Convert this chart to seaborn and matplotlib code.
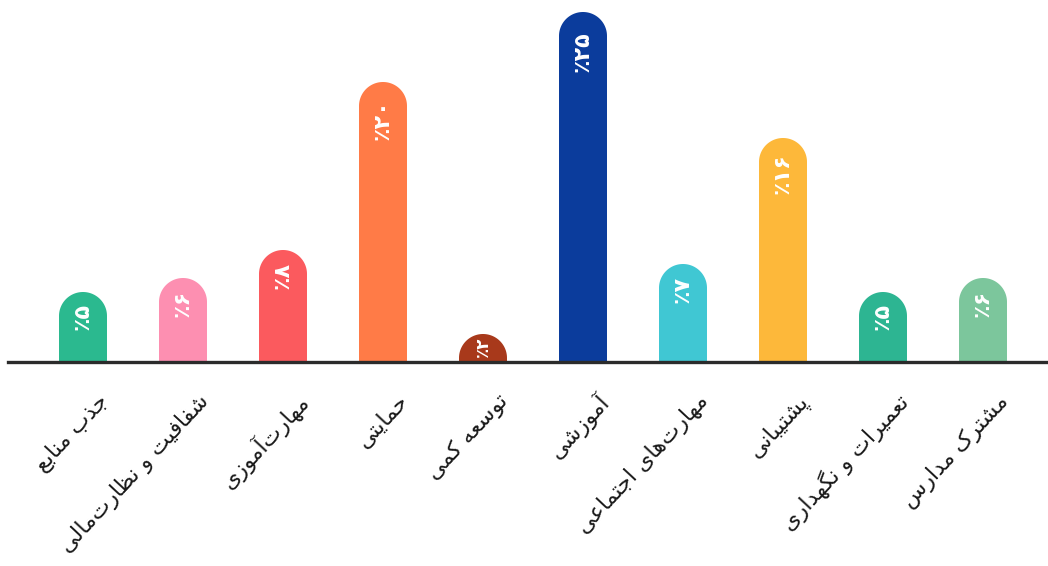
import numpy as np
import pandas as pd
import matplotlib
matplotlib.use("Agg")
import matplotlib.pyplot as plt
import seaborn as sns
from matplotlib.path import Path
from matplotlib.patches import PathPatch
from matplotlib.transforms import ScaledTranslation

# ---------------- data ----------------
categories = ["جذب منابع", "شفافیت و نظارت‌مالی", "مهارت‌آموزی", "حمایتی",
              "توسعه کمی", "آموزشی", "مهارت‌های اجتماعی", "پشتیبانی",
              "تعمیرات و نگهداری", "مشترک مدارس"]
values = [5, 6, 8, 20, 2, 25, 7, 16, 5, 6]
colors = ["#2bb98f", "#fd8fb1", "#fb5a5e", "#ff7b47", "#a8391b",
          "#0b3c9c", "#40c7d3", "#fdb83a", "#2db592", "#7cc69c"]

# ------------- simple Arabic/Persian shaping -------------
FORMS = {
    'ا': ('R', 0xFE8D), 'آ': ('R', 0xFE81), 'ب': ('D', 0xFE8F), 'پ': ('D', 0xFB56),
    'ت': ('D', 0xFE95), 'ج': ('D', 0xFE9D), 'ح': ('D', 0xFEA1), 'د': ('R', 0xFEA9),
    'ذ': ('R', 0xFEAB), 'ر': ('R', 0xFEAD), 'ز': ('R', 0xFEAF), 'س': ('D', 0xFEB1),
    'ش': ('D', 0xFEB5), 'ط': ('D', 0xFEC1), 'ظ': ('D', 0xFEC5), 'ع': ('D', 0xFEC9),
    'ف': ('D', 0xFED1), 'ق': ('D', 0xFED5), 'ک': ('D', 0xFB8E), 'گ': ('D', 0xFB92),
    'ل': ('D', 0xFEDD), 'م': ('D', 0xFEE1), 'ن': ('D', 0xFEE5), 'ه': ('D', 0xFEE9),
    'و': ('R', 0xFEED), 'ی': ('D', 0xFBFC),
}


def shape(s):
    out = []
    n = len(s)
    for i, c in enumerate(s):
        if c not in FORMS:
            if c == '\u200c':
                continue
            out.append(c)
            continue
        t, base = FORMS[c]
        p = s[i - 1] if i > 0 else ''
        q = s[i + 1] if i + 1 < n else ''
        jp = p in FORMS and FORMS[p][0] == 'D'
        jn = t == 'D' and q in FORMS
        if jp and jn:
            f = 3
        elif jp:
            f = 1
        elif jn:
            f = 2
        else:
            f = 0
        out.append(chr(base + f))
    return ''.join(reversed(out))


FA_DIGITS = str.maketrans("0123456789", "۰۱۲۳۴۵۶۷۸۹")


def fa_pct(v):
    return "٪" + str(v).translate(FA_DIGITS)


# ---------------- plot ----------------
sns.set_style("white")
plt.rcParams['font.family'] = ['DejaVu Sans']

W, H, DPI = 1048, 566, 100
fig = plt.figure(figsize=(W / DPI, H / DPI), dpi=DPI)
fig.patch.set_facecolor("white")
base_px = 362
ax = fig.add_axes([8 / W, 1 - base_px / H, 1040 / W, base_px / H])

df = pd.DataFrame({"cat": categories, "val": values})
sns.barplot(data=df, x="cat", y="val", hue="cat", order=categories,
            hue_order=categories, palette=colors, saturation=1,
            width=0.48, legend=False, ax=ax)

px_per_pct = 14.0
ax.set_ylim(0, base_px / px_per_pct)
ax.set_xlim(-0.75, 9.65)

for s in ["top", "left", "right"]:
    ax.spines[s].set_visible(False)
ax.spines["bottom"].set_color("#2b2b2b")
ax.spines["bottom"].set_linewidth(2.4)
ax.set_yticks([])
ax.set_xlabel("")
ax.set_ylabel("")

# rounded tops
ax_w_px = 1040
ax_h_px = base_px
xlim = ax.get_xlim()
ylim = ax.get_ylim()
px_x = ax_w_px / (xlim[1] - xlim[0])
px_y = ax_h_px / (ylim[1] - ylim[0])

bars = [p for p in ax.patches]
for p in bars:
    x0, w, h = p.get_x(), p.get_width(), p.get_height()
    if h <= 0:
        continue
    rx = w / 2
    ry = rx * px_x / px_y
    cx = x0 + rx
    th = np.linspace(np.pi, 0, 60)
    arc = np.column_stack([cx + rx * np.cos(th), (h - ry) + ry * np.sin(th)])
    verts = np.vstack([[x0, 0], [x0, h - ry], arc, [x0 + w, 0], [x0, 0]])
    codes = [Path.MOVETO] + [Path.LINETO] * (len(verts) - 2) + [Path.CLOSEPOLY]
    pp = PathPatch(Path(verts, codes), facecolor=p.get_facecolor(),
                   edgecolor="none", zorder=2)
    p.set_visible(False)
    ax.add_patch(pp)

    # value label
    v = int(round(h))
    hpx = h * px_y
    if hpx < 40:
        off_px, fs = 3, 12
    else:
        off_px, fs = 9 + 0.03 * hpx, 16
    ax.text(cx, h - off_px / px_y, fa_pct(v), rotation=90, ha="center",
            va="top", color="white", fontsize=fs, fontweight="bold", zorder=3)

# category tick labels
ax.set_xticks(range(len(categories)))
ax.set_xticklabels([shape(c) for c in categories], rotation=47,
                   ha="right", va="center", rotation_mode="anchor",
                   fontsize=16, color="#1a1a1a")
ax.tick_params(axis="x", length=0, pad=0)
offset = ScaledTranslation(22 / DPI, -36 / DPI, fig.dpi_scale_trans)
for lab in ax.get_xticklabels():
    lab.set_transform(lab.get_transform() + offset)

fig.savefig("out.png", dpi=DPI, facecolor="white")
